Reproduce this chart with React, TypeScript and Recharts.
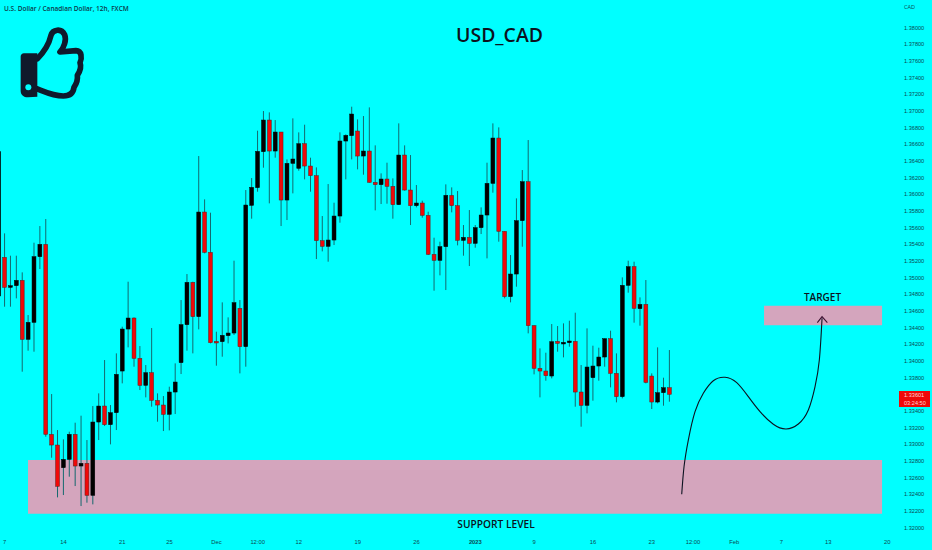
import React from "react";
import { ComposedChart, Bar, Line, XAxis, YAxis, ReferenceArea } from "recharts";

const opens = [
  1.3478, 1.35244, 1.34884, 1.34904, 1.34968, 1.3426, 1.34464, 1.35252, 1.354, 1.3312,
  1.32992, 1.3272, 1.3282, 1.3312, 1.3274, 1.32772, 1.32388, 1.33268, 1.3346, 1.33236,
  1.3338, 1.3388, 1.34384, 1.34516, 1.34032, 1.33708, 1.3386, 1.33528, 1.33472, 1.3336,
  1.33628, 1.3398, 1.34436, 1.34944, 1.34532, 1.35788, 1.35304, 1.34236, 1.34232, 1.34304,
  1.34336, 1.34632, 1.34172, 1.35868, 1.3608, 1.36512, 1.36892, 1.3652, 1.36748, 1.35932,
  1.36372, 1.36312, 1.36608, 1.3634, 1.36224, 1.35444, 1.35376, 1.35452, 1.3574, 1.3664,
  1.36704, 1.3676, 1.3646, 1.3652, 1.36144, 1.36116, 1.36184, 1.36096, 1.35876, 1.36472,
  1.36052, 1.35864, 1.35896, 1.35748, 1.3528, 1.35208, 1.35372, 1.35988, 1.35864, 1.35448,
  1.35484, 1.35412, 1.356, 1.35752, 1.36132, 1.36676, 1.35556, 1.34772, 1.35044, 1.35684,
  1.36152, 1.34424, 1.33912, 1.3388, 1.3382, 1.34236, 1.34208, 1.3422, 1.34236, 1.33628,
  1.33468, 1.338, 1.3394, 1.34048, 1.34268, 1.33852, 1.33572, 1.34908, 1.35132, 1.34628,
  1.3468, 1.3382, 1.33508, 1.3362, 1.3368,
];
const closes = [
  1.36512, 1.34884, 1.34904, 1.34968, 1.3426, 1.34464, 1.35252, 1.354, 1.3312, 1.32992,
  1.32496, 1.3282, 1.3312, 1.3274, 1.32772, 1.32388, 1.33268, 1.3346, 1.33236, 1.3338,
  1.3384, 1.34384, 1.34516, 1.34032, 1.33708, 1.3386, 1.33528, 1.33472, 1.3336, 1.33628,
  1.33748, 1.34436, 1.34944, 1.34532, 1.35788, 1.35304, 1.3422, 1.3422, 1.34308, 1.34336,
  1.347, 1.34172, 1.35872, 1.36084, 1.36516, 1.36892, 1.3652, 1.36748, 1.35932, 1.36372,
  1.36424, 1.36608, 1.3634, 1.36224, 1.35444, 1.35376, 1.35452, 1.3574, 1.3664, 1.36708,
  1.36964, 1.3646, 1.3652, 1.36144, 1.36116, 1.36184, 1.36096, 1.35876, 1.36472, 1.36052,
  1.35864, 1.35896, 1.35748, 1.3528, 1.35208, 1.35372, 1.35988, 1.35864, 1.35448, 1.35484,
  1.35412, 1.356, 1.35752, 1.36132, 1.36676, 1.35556, 1.34772, 1.35044, 1.35684, 1.36152,
  1.34424, 1.33912, 1.3388, 1.33824, 1.34232, 1.34212, 1.34224, 1.3424, 1.33628, 1.33468,
  1.33928, 1.3394, 1.34048, 1.34268, 1.33852, 1.33572, 1.34908, 1.35132, 1.34632, 1.3468,
  1.33744, 1.33508, 1.3362, 1.3368, 1.33601,
];
const highs = [
  1.36512, 1.35532, 1.35264, 1.35264, 1.35064, 1.34552, 1.3542, 1.3562, 1.35704, 1.33604,
  1.33172, 1.3306, 1.33152, 1.3326, 1.33344, 1.33052, 1.3346, 1.33612, 1.34012, 1.33472,
  1.34092, 1.34412, 1.34952, 1.34524, 1.3418, 1.33952, 1.34396, 1.33612, 1.3358, 1.33692,
  1.33972, 1.34732, 1.35044, 1.34952, 1.3646, 1.3594, 1.3578, 1.34352, 1.34704, 1.34524,
  1.35204, 1.34732, 1.36052, 1.36196, 1.36764, 1.37, 1.36984, 1.36892, 1.36748, 1.3642,
  1.36912, 1.36744, 1.36836, 1.3644, 1.36324, 1.3574, 1.36124, 1.359, 1.36744, 1.3672,
  1.37052, 1.369, 1.3694, 1.37044, 1.36588, 1.36252, 1.3638, 1.36192, 1.36852, 1.36588,
  1.36472, 1.36112, 1.35924, 1.35792, 1.3548, 1.35432, 1.3612, 1.36084, 1.3604, 1.35632,
  1.35812, 1.35632, 1.35844, 1.3638, 1.36852, 1.36804, 1.3556, 1.35272, 1.35952, 1.36292,
  1.36652, 1.34432, 1.34152, 1.341, 1.34444, 1.3442, 1.34452, 1.34484, 1.3458, 1.33952,
  1.34392, 1.34184, 1.3416, 1.34272, 1.34364, 1.34092, 1.35004, 1.35204, 1.35192, 1.34764,
  1.34972, 1.33852, 1.34164, 1.338, 1.34132,
];
const lows = [
  1.3478, 1.34652, 1.34652, 1.34752, 1.33872, 1.34124, 1.34112, 1.35104, 1.33092, 1.3284,
  1.32364, 1.32392, 1.32612, 1.325, 1.3226, 1.323, 1.3228, 1.33052, 1.3322, 1.33,
  1.33172, 1.33732, 1.34164, 1.33932, 1.33652, 1.33564, 1.33452, 1.33272, 1.3316, 1.33168,
  1.33364, 1.33844, 1.34124, 1.34092, 1.3438, 1.35292, 1.34212, 1.33944, 1.34052, 1.34212,
  1.34312, 1.33852, 1.33932, 1.35708, 1.36032, 1.3632, 1.35892, 1.3644, 1.3562, 1.35692,
  1.36012, 1.36284, 1.3618, 1.36032, 1.35224, 1.35316, 1.35192, 1.35392, 1.3566, 1.3618,
  1.3642, 1.363, 1.36236, 1.3614, 1.35808, 1.35884, 1.35888, 1.35708, 1.35872, 1.36044,
  1.35632, 1.35844, 1.3572, 1.35272, 1.34844, 1.35028, 1.34852, 1.35784, 1.35388, 1.35264,
  1.3514, 1.3536, 1.35524, 1.35232, 1.3602, 1.35432, 1.34752, 1.34704, 1.34892, 1.35372,
  1.34332, 1.3384, 1.33564, 1.33764, 1.33792, 1.34112, 1.34044, 1.34172, 1.33452, 1.33212,
  1.33372, 1.33524, 1.33764, 1.33932, 1.33684, 1.33504, 1.33552, 1.3482, 1.3446, 1.34424,
  1.33732, 1.33424, 1.33492, 1.33464, 1.33512,
];

const yTicks = [
  1.38, 1.378, 1.376, 1.374, 1.372, 1.37, 1.368, 1.366, 1.364, 1.362, 1.36, 1.358, 1.356, 1.354, 1.352, 1.35,
  1.348, 1.346, 1.344, 1.342, 1.34, 1.338, 1.336, 1.334, 1.332, 1.33, 1.328, 1.326, 1.324, 1.322, 1.32,
];
const xTickIndex = [0, 10, 20, 28, 36, 43, 50, 60, 70, 80, 90, 100, 110, 117, 124, 132, 140, 150];
const xTickLabels = ["7", "14", "21", "25", "Dec", "12:00", "12", "19", "26", "2023", "9", "16", "23", "12:00", "Feb", "7", "13", "20"];
const boldTicks = ["2023"];

const curveIndex = [115.08, 115.47, 116.2, 117.34, 118.75, 120.45, 122.44, 124.43, 126.4, 128.39, 130.65, 132.81, 134.9, 136.6, 137.74, 138.47, 138.93];
const curvePrice = [1.32401, 1.32732, 1.33052, 1.33392, 1.33613, 1.33764, 1.33805, 1.3374, 1.33572, 1.33392, 1.33241, 1.33184, 1.33244, 1.33412, 1.33692, 1.34012, 1.34513];
const arrowIndex = [138.13, 138.93, 139.83];
const arrowPrice = [1.3446, 1.34532, 1.3446];

const rows = opens.map((o, k) => ({
  i: k - 1,
  open: o,
  close: closes[k],
  high: highs[k],
  low: lows[k],
  range: [lows[k], highs[k]],
}));
const curveRows = curveIndex.map((x, k) => ({ i: x, p: curvePrice[k] }));
const arrowRows = arrowIndex.map((x, k) => ({ i: x, p: arrowPrice[k] }));

const INK = "#0c1220";
const AXIS_INK = "#0c4a52";
const BODY_WIDTH = 3.9;

function Candle(props: any) {
  const { x, y, width, height, payload } = props;
  if (!payload) return null;
  const perUnit = height / (payload.high - payload.low);
  const top = y + (payload.high - Math.max(payload.open, payload.close)) * perUnit;
  const bottom = y + (payload.high - Math.min(payload.open, payload.close)) * perUnit;
  const isDown = payload.close < payload.open;
  const cx = x + width / 2;
  return (
    <g>
      <line x1={cx} x2={cx} y1={y} y2={y + height} stroke="#15686e" strokeWidth={1} />
      <rect
        x={cx - BODY_WIDTH / 2}
        y={top}
        width={BODY_WIDTH}
        height={Math.max(bottom - top, 1.6)}
        fill={isDown ? "#f00808" : "#000000"}
        stroke={isDown ? "#5c1f1f" : "#000000"}
        strokeWidth={0.5}
      />
    </g>
  );
}

function XTick(props: any) {
  const { x, y, payload } = props;
  const label = xTickLabels[xTickIndex.indexOf(payload.value)];
  return (
    <text
      x={x}
      y={y + 0.5}
      textAnchor="middle"
      fontFamily="'Liberation Sans'"
      fontSize={5.8}
      fontWeight={boldTicks.includes(label) ? 700 : 400}
      fill={AXIS_INK}
    >
      {label}
    </text>
  );
}

function Overlay({ x, y, size, weight, color, children, anchor }: any) {
  return (
    <div
      style={{
        position: "absolute",
        left: x,
        top: y,
        transform: anchor === "middle" ? "translate(-50%,-50%)" : "translateY(-50%)",
        fontFamily: "'Open Sans'",
        fontSize: size,
        fontWeight: weight,
        color,
        lineHeight: 1,
        whiteSpace: "nowrap",
      }}
    >
      {children}
    </div>
  );
}

function Thumb() {
  return (
    <svg width={90} height={80} viewBox="0 0 270 240" style={{ position: "absolute", left: 0, top: 20 }}>
      <g transform="translate(0,-60)">
        <path
          d="M112 176 C130 158 146 136 153 106 C158 88 184 84 194 104 C200 120 192 144 180 156 L228 152 C246 152 246 176 240 188 C246 204 236 220 232 226 C234 240 226 256 222 262 C220 282 206 288 190 288 C160 288 136 276 110 266"
          fill="none"
          stroke="#101a2c"
          strokeWidth={17}
          strokeLinejoin="round"
          strokeLinecap="round"
        />
        <path d="M72 160 L112 160 L112 290 L84 292 C70 292 62 284 62 272 L62 170 C62 164 66 160 72 160 Z" fill="#101a2c" />
        <circle cx={85} cy={262} r={9} fill="#00ffff" />
      </g>
    </svg>
  );
}

export default function App() {
  return (
    <div style={{ position: "absolute", left: 0, top: 0, width: 932, height: 550, background: "#00ffff", overflow: "hidden" }}>
      <ComposedChart width={932} height={550} data={rows} margin={{ top: 0, right: 0, bottom: 0, left: -4.06 }}>
        <XAxis
          dataKey="i"
          type="number"
          domain={[-1.484, 152.18]}
          allowDataOverflow
          ticks={xTickIndex}
          interval={0}
          tick={<XTick />}
          tickLine={false}
          axisLine={false}
          height={15}
        />
        <YAxis
          orientation="right"
          type="number"
          domain={[1.319124, 1.383324]}
          allowDataOverflow
          ticks={yTicks}
          interval={0}
          width={32}
          tickLine={false}
          axisLine={false}
          tickSize={0}
          tickMargin={4}
          tickFormatter={(v: number) => v.toFixed(5)}
          tick={{ fontFamily: "'Liberation Sans'", fontSize: 5.6, fill: AXIS_INK }}
        />
        <ReferenceArea x1={3.97} x2={149.13} y1={1.32168} y2={1.32812} fill="#d4a5bd" fillOpacity={1} stroke="none" />
        <ReferenceArea x1={129.07} x2={149.13} y1={1.34429} y2={1.34664} fill="#d4a5bd" fillOpacity={1} stroke="none" />
        <Bar dataKey="range" barSize={4} shape={<Candle />} isAnimationActive={false} />
        <Line data={curveRows} dataKey="p" type="natural" stroke={INK} strokeWidth={1.1} dot={false} activeDot={false} isAnimationActive={false} />
        <Line data={arrowRows} dataKey="p" type="linear" stroke="#3a1030" strokeWidth={1.1} dot={false} activeDot={false} isAnimationActive={false} />
      </ComposedChart>

      <Thumb />
      <Overlay x={4} y={9} size={6.5} weight={600} color="#0c3a4a">U.S. Dollar / Canadian Dollar, 12h, FXCM</Overlay>
      <Overlay x={904} y={7.5} size={5.6} weight={400} color={AXIS_INK}>CAD</Overlay>
      <Overlay x={499.5} y={35} size={19.4} weight={600} color={INK} anchor="middle">USD_CAD</Overlay>
      <Overlay x={496} y={523.5} size={10.2} weight={600} color={INK} anchor="middle">SUPPORT LEVEL</Overlay>
      <Overlay x={822.5} y={296.5} size={10} weight={600} color={INK} anchor="middle">TARGET</Overlay>
      <div
        style={{
          position: "absolute",
          left: 899,
          top: 390.7,
          width: 30.7,
          height: 16.6,
          background: "#f00808",
          color: "#ffd6d6",
          fontFamily: "'Liberation Sans'",
          fontSize: 5.6,
          lineHeight: "8px",
          paddingLeft: 5,
          boxSizing: "border-box",
        }}
      >
        <div>1.33601</div>
        <div>03:24:50</div>
      </div>
    </div>
  );
}
